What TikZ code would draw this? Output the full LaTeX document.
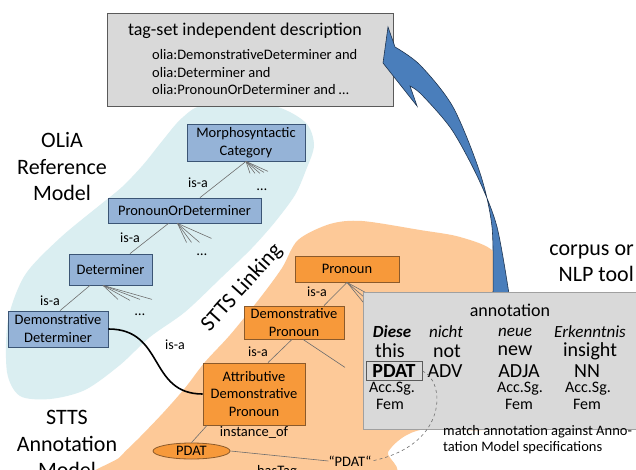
\documentclass[tikz,border=0pt]{standalone}
\usepackage{fontspec}
\setmainfont{Carlito}
\usetikzlibrary{shapes.geometric,calc}
\definecolor{cyanblob}{HTML}{DAEEF1}
\definecolor{peach}{HTML}{FDC998}
\definecolor{bluefill}{HTML}{95B3D7}
\definecolor{bluebd}{HTML}{3B5575}
\definecolor{orfill}{HTML}{F7993A}
\definecolor{orbd}{HTML}{8B5A2B}
\definecolor{boxgray}{HTML}{D9D9D9}
\definecolor{topbd}{HTML}{5A5A5A}
\definecolor{annbd}{HTML}{A0A0A0}
\definecolor{arrowblue}{HTML}{4A7EBB}
\definecolor{arrowbd}{HTML}{1F3550}
\definecolor{linkgray}{HTML}{6E6E6E}
\newcommand{\fsz}[2]{\fontsize{#1}{#2}\selectfont}
\tikzset{
  cls/.style={draw=bluebd, fill=bluefill, line width=0.8pt, inner sep=0pt, align=center, font=\fsz{14.5}{18}},
  orcls/.style={draw=orbd, fill=orfill, line width=0.8pt, inner sep=0pt, align=center, font=\fsz{14.5}{17.5}},
  link/.style={draw=linkgray, line width=0.6pt},
  lbl/.style={font=\fsz{14}{16}, inner sep=0pt},
  side/.style={font=\fsz{22}{26.5}, align=center, inner sep=0pt},
  rowa/.style={font=\fsz{17}{19}\itshape, inner sep=0pt},
  rowb/.style={font=\fsz{20}{22}, inner sep=0pt},
  rowd/.style={font=\fsz{16}{18}, inner sep=0pt},
}
\begin{document}
\begin{tikzpicture}[x=1pt,y=-1pt]
\useasboundingbox (0,0) rectangle (636,470);
\clip (0,0) rectangle (636,470);
\fill[white] (0,0) rectangle (636,470);
% background blobs
\fill[cyanblob] plot[smooth cycle] coordinates {(143,165) (163,140) (182,118) (205,105) (270,105) (305,122) (314,145) (306,170) (295,195) (275,222) (252,248) (222,277) (185,312) (150,337) (120,365) (85,390) (50,399) (20,396) (7,372) (8,320) (25,275) (60,238) (100,205) (122,187)};
\fill[peach] plot[smooth cycle] coordinates {(330,224) (362,221) (420,230) (460,237) (494,252) (505,290) (505,420) (430,428) (405,436) (388,452) (378,480) (100,482) (120,457) (140,437) (163,413) (185,388) (205,362) (230,335) (260,298) (282,268) (298,240)};
% top box
\node[draw=topbd, fill=boxgray, line width=0.8pt, minimum width=286pt, minimum height=93pt, inner sep=0pt] (tb) at (250,59.5) {};
\node[font=\fsz{18}{20}, inner sep=0pt] (tbt) at (245,31) {tag-set independent description};
\node[font=\fsz{14.5}{17}, inner sep=0pt, anchor=west] (tb1) at (152,55) {olia:DemonstrativeDeterminer and};
\node[font=\fsz{14.5}{17}, inner sep=0pt, anchor=west] (tb2) at (152,72.5) {olia:Determiner and};
\node[font=\fsz{14.5}{17}, inner sep=0pt, anchor=west] (tb3) at (152,90) {olia:PronounOrDeterminer and …};
% blue arrow
\filldraw[fill=arrowblue, draw=arrowbd, line width=0.6pt] (388,27) -- (395,47)
  -- plot[smooth] coordinates {(395,47) (420,65) (453,107) (480,173) (492,227) (493,294)}
  -- plot[smooth] coordinates {(509,294) (497,227) (479,180) (452,130) (422,95) (410,86)}
  -- (417,106) -- (383,63) -- cycle;
% OLiA nodes
\node[cls, minimum width=118pt, minimum height=37pt] (mc) at (246,142.5) {Morphosyntactic\\Category};
\node[cls, minimum width=153pt, minimum height=25pt] (pod) at (184.5,210.5) {PronounOrDeterminer};
\node[cls, minimum width=83pt, minimum height=31pt] (det) at (110.5,269.5) {Determiner};
\node[cls, minimum width=100pt, minimum height=36pt] (dd) at (58,329) {Demonstrative\\Determiner};
% STTS nodes
\node[orcls, minimum width=104pt, minimum height=26pt] (pr) at (347,269) {Pronoun};
\node[orcls, minimum width=100pt, minimum height=33pt] (dp) at (294,322.5) {Demonstrative\\Pronoun};
\node[orcls, minimum width=102pt, minimum height=62pt] (adp) at (254,394) {Attributive\\Demonstrative\\Pronoun};
\node[draw=orbd, fill=orfill, line width=0.8pt, ellipse, minimum width=77pt, minimum height=16pt, inner sep=0pt, font=\fsz{14.5}{16}] (pdat) at (191.5,451) {PDAT};
\node[font=\fsz{14.5}{16}, inner sep=0pt] (q) at (350,461) {“PDAT“};
% OLiA links
\draw[link] (mc.south) -- ($(pod.north)+(15.5,0)$);
\foreach \dx/\dy in {4/12, 9/12, 14/12, 18/11, 22/10} \draw[link] (mc.south) -- ++(\dx,\dy);
\draw[link] ($(pod.south)+(-16,0)$) -- ($(det.north)+(19.5,0)$);
\foreach \dx/\dy in {9/19, 14/19, 22/19, 34/15} \draw[link] ($(pod.south)+(-7,0)$) -- ++(\dx,\dy);
\draw[link] ($(det.south)+(-20.5,0)$) -- ($(dd.north)+(2,0)$);
\foreach \dx/\dy in {15/14, 27/15, 37/14, 49/14} \draw[link] ($(det.south)+(-7.5,0)$) -- ++(\dx,\dy);
% STTS links
\draw[link] (pr.south) -- ($(dp.north)+(30,0)$);
\foreach \dx/\dy in {22/12, 22/19, 22/27} \draw[link] (pr.south) -- ++(\dx,\dy);
\draw[link] ($(dp.south)+(-2,0)$) -- ($(adp.north)+(14,0)$);
\draw[link] ($(dp.south)+(9,0)$) -- ++(42,28);
\draw[link] ($(adp.south)+(-47,0)$) -- (pdat.north);
\draw[link] (pdat.east) -- (q.west);
% linking curve
\draw[black, line width=1.6pt] (dd.east) .. controls (165,329) and (148,394) .. (adp.west);
% labels
\node[lbl] (l1) at (198,183) {is-a};
\node[lbl] (l2) at (130,238) {is-a};
\node[lbl] (l3) at (50,301) {is-a};
\node[lbl] (l4) at (175,345) {is-a};
\node[lbl] (l5) at (317,292) {is-a};
\node[lbl] (l6) at (258,352) {is-a};
\node[lbl, font=\fsz{14.5}{16}] (l7) at (254,432) {instance\_of};
\node[lbl, font=\fsz{14.5}{16}] (l8) at (277,472) {hasTag};
\node[lbl, font=\fsz{14.5}{16}] (d1) at (262,190) {…};
\node[lbl, font=\fsz{14.5}{16}] (d2) at (202,255) {…};
\node[lbl, font=\fsz{14.5}{16}] (d3) at (140,315) {…};
% annotation box
\node[draw=annbd, fill=boxgray, line width=1.3pt, minimum width=285pt, minimum height=137pt, inner sep=0pt, anchor=north west] (ann) at (363,292) {};
\node[font=\fsz{18}{20}, inner sep=0pt] (annt) at (510,310) {annotation};
\node[rowa] (w1) at (392,332) {\bfseries Diese};
\node[rowa] (w2) at (446,332) {nicht};
\node[rowa] (w3) at (515,332) {neue};
\node[rowa] (w4) at (590,332) {Erkenntnis};
\node[rowb] (e1) at (390,351) {this};
\node[rowb] (e2) at (447,351) {not};
\node[rowb] (e3) at (515,351) {new};
\node[rowb] (e4) at (590,351) {insight};
\node[draw=topbd, line width=0.8pt, minimum width=56pt, minimum height=19pt, inner sep=0pt, font=\fsz{20}{22}\bfseries] (pbox) at (394,371) {PDAT};
\node[rowb] (t2) at (445,371) {ADV};
\node[rowb] (t3) at (519,371) {ADJA};
\node[rowb] (t4) at (587,371) {NN};
\node[rowd] (m1) at (392,389) {Acc.Sg.};
\node[rowd] (m3) at (520,389) {Acc.Sg.};
\node[rowd] (m4) at (588,389) {Acc.Sg.};
\node[rowd] (f1) at (390,404) {Fem};
\node[rowd] (f3) at (519,404) {Fem};
\node[rowd] (f4) at (587,404) {Fem};
% dashed match curve
\draw[linkgray, dashed, line width=0.6pt] (pbox.east) .. controls (445,380) and (450,445) .. (q.east);
% side texts
\node[side] (olia) at (62,167) {OLiA\\Reference\\Model};
\node[side] (stts) at (67,444) {STTS\\Annotation\\Model};
\node[side, align=right, anchor=east] (corp) at (634,263) {corpus or\\NLP tool};
\node[side, rotate=48] (linking) at (242,288) {STTS Linking};
\node[font=\fsz{14.5}{16}, align=left, inner sep=0pt, anchor=base west] (match) at (443,451) {match annotation against Anno-\\tation Model specifications};
\end{tikzpicture}
\end{document}
